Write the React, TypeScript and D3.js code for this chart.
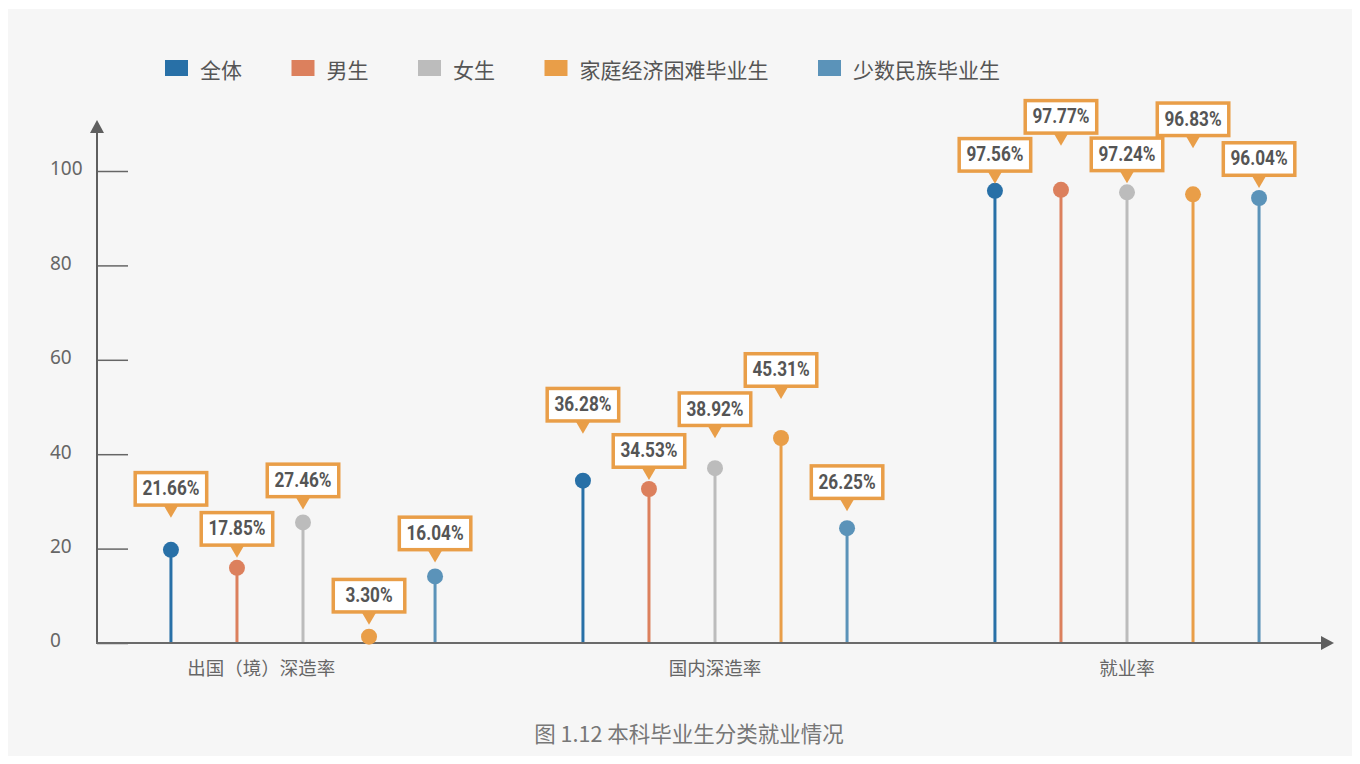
import * as d3 from "d3";
import { useEffect, useRef } from "react";

// 分类与系列
const categories = ["出国（境）深造率　　　　\u2002", "国内深造率", "就业率"];
const seriesNames = ["全体", "男生", "女生", "家庭经济困难毕业生", "少数民族毕业生"];
const seriesColors = ["#2870a7", "#dc805d", "#bcbcbc", "#e99e48", "#5b93b9"];

// 各类比例 (%)
const outboundRates = [21.66, 17.85, 27.46, 3.3, 16.04];
const domesticRates = [36.28, 34.53, 38.92, 45.31, 26.25];
const employmentRates = [97.56, 97.77, 97.24, 96.83, 96.04];

const yTicks = [0, 20, 40, 60, 80, 100];

// 标注框离圆点的高度 (px)，手工错开避免重叠
const calloutLift = [
  [32, 10, 13, 12, 14],
  [47, 9, 30, 39, 17],
  [7, 44, 9, 46, 10],
];

const W = 1344;
const H = 748;
const calloutColor = "#e99e48";
const cjk = "'Noto Sans CJK SC', 'Noto Sans', sans-serif";
const numFont = "Roboto, 'Liberation Sans', sans-serif";

export default function App() {
  const axisRef = useRef<SVGGElement>(null);

  const rows = [outboundRates, domesticRates, employmentRates];

  const x0 = d3.scaleBand<string>().domain(categories).range([97, 1333]).padding(0);
  const x1 = d3.scalePoint<string>().domain(seriesNames).range([0, x0.bandwidth()]).padding(1.12);
  // 坐标轴刻度
  const yAxisScale = d3.scaleLinear().domain([0, 100]).range([643, 171]);
  // 圆点位置
  const yValue = d3.scaleLinear().domain([0, 100]).range([652.3, 179.3]);

  useEffect(() => {
    if (!axisRef.current) return;
    const g = d3.select(axisRef.current);
    g.selectAll("*").remove();
    g.call(d3.axisRight(yAxisScale).tickValues(yTicks).tickSize(31).tickFormat(d3.format("d")));
    g.select(".domain").remove();
    g.selectAll(".tick line").attr("stroke", "#666").attr("stroke-width", 1.5);
    g.selectAll(".tick text")
      .attr("x", -47)
      .attr("dy", "0.2em")
      .attr("text-anchor", "start")
      .attr("fill", "#666")
      .style("font-family", "'Noto Sans', sans-serif")
      .style("font-size", "19px");
  }, []);

  // 图例位置
  let lx = 165;
  const legend = seriesNames.map((name, i) => {
    const item = { name, color: seriesColors[i], x: lx };
    lx += 35 + name.length * 21 + 49.5;
    return item;
  });

  return (
    <svg width={W} height={H} viewBox={`8 8 ${W} ${H}`} style={{ display: "block" }}>
      <rect x={8} y={9} width={1344} height={780} fill="#f6f6f6" />

      {/* 图例 */}
      {legend.map((d) => (
        <g key={d.name}>
          <rect x={d.x} y={60} width={23} height={16} fill={d.color} />
          <text x={d.x + 35} y={69} dominantBaseline="central" fontSize={21} fontFamily={cjk} fill="#555">
            {d.name}
          </text>
        </g>
      ))}

      {/* 坐标轴 */}
      <g ref={axisRef} transform="translate(97,0)" />
      <line x1={97} x2={97} y1={643} y2={128} stroke="#5f5f5f" strokeWidth={2} />
      <path d="M97,120 L104,133 L90,133 Z" fill="#5f5f5f" />
      <line x1={96} x2={1324} y1={643} y2={643} stroke="#6a6a6a" strokeWidth={2} />
      <path d="M1334,643 L1321,636 L1321,650 Z" fill="#5f5f5f" />

      {categories.map((c) => (
        <text
          key={c}
          x={x0(c)! + x0.bandwidth() / 2}
          y={667}
          dominantBaseline="central"
          textAnchor="middle"
          fontSize={18.5}
          fontFamily={cjk}
          fill="#666"
        >
          {c}
        </text>
      ))}

      {/* 棒棒糖 */}
      {categories.map((c, ci) =>
        seriesNames.map((s, si) => {
          const v = rows[ci][si];
          const cx = x0(c)! + x1(s)!;
          const cy = yValue(v);
          return (
            <g key={c + s}>
              <line x1={cx} x2={cx} y1={cy} y2={642} stroke={seriesColors[si]} strokeWidth={3} />
              <circle cx={cx} cy={cy} r={8} fill={seriesColors[si]} />
            </g>
          );
        })
      )}

      {/* 数值标注 */}
      {categories.map((c, ci) =>
        seriesNames.map((s, si) => {
          const v = rows[ci][si];
          const cx = x0(c)! + x1(s)!;
          const tip = yValue(v) - calloutLift[ci][si];
          const bottom = tip - 11;
          const top = bottom - 36;
          return (
            <g key={"c" + c + s}>
              <path d={`M${cx - 7},${bottom - 1} L${cx + 7},${bottom - 1} L${cx},${tip} Z`} fill={calloutColor} />
              <rect
                x={cx - 35.75}
                y={top + 1.75}
                width={71.5}
                height={32.5}
                fill="#fff"
                stroke={calloutColor}
                strokeWidth={3.5}
              />
              <text
                transform={`translate(${cx},${(top + bottom) / 2}) scale(0.86,1)`}
                dominantBaseline="central"
                textAnchor="middle"
                fontSize={20}
                fontWeight="bold"
                fontFamily={numFont}
                fill="#555"
              >
                {v.toFixed(2)}%
              </text>
            </g>
          );
        })
      )}

      <text x={689} y={732} dominantBaseline="central" textAnchor="middle" fontSize={21.5} fontFamily={cjk} fill="#777">
        图 1.12 本科毕业生分类就业情况
      </text>
    </svg>
  );
}
